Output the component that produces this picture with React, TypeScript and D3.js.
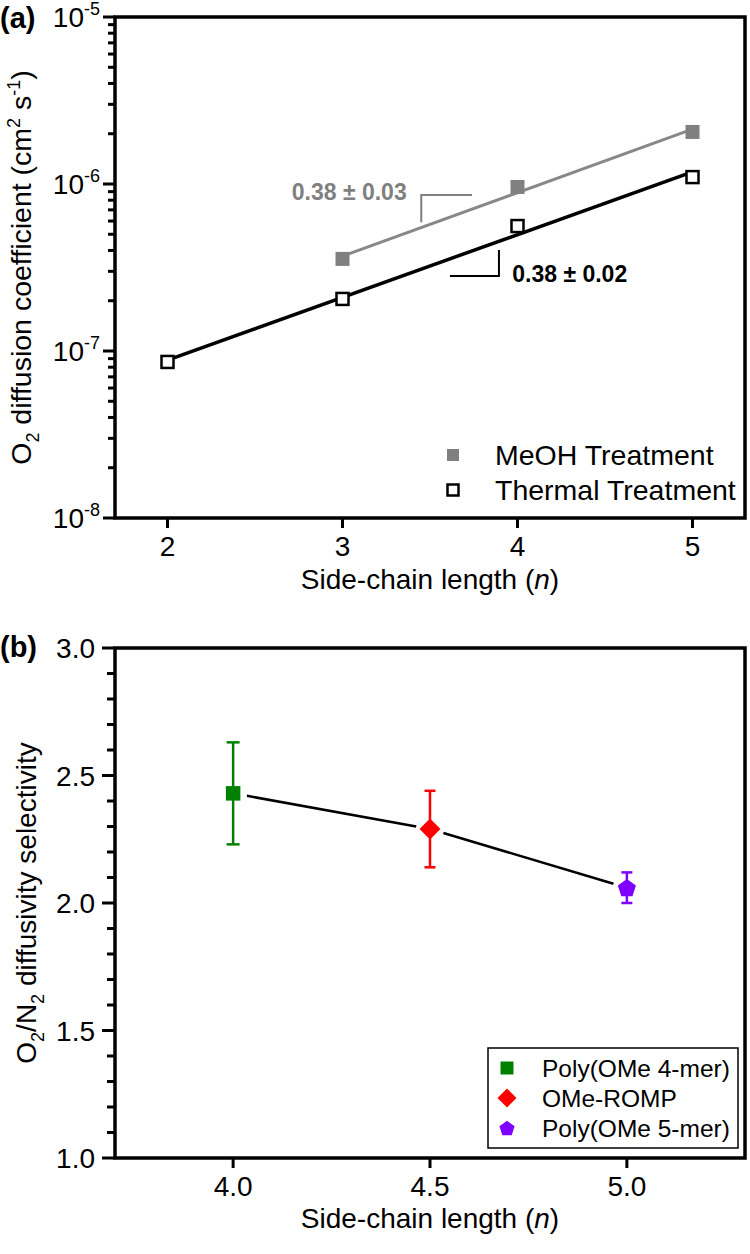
import React from "react";
import * as d3 from "d3";

// ---------- Panel (a) data ----------
const nMeOH = [3, 4, 5];
const dMeOH = [3.56e-7, 9.6e-7, 2.05e-6];
const nThermal = [2, 3, 4, 5];
const dThermal = [8.6e-8, 2.05e-7, 5.6e-7, 1.1e-6];
const xTicksA = [2, 3, 4, 5];
const yTicksA = [1e-8, 1e-7, 1e-6, 1e-5];
const yTickExpA = ["-8", "-7", "-6", "-5"];
const legendA = ["MeOH Treatment", "Thermal Treatment"];
const slopeLabels = ["0.38 \u00b1 0.03", "0.38 \u00b1 0.02"];

// ---------- Panel (b) data ----------
const nB = [4.0, 4.5, 5.0];
const selB = [2.43, 2.29, 2.06];
const errB = [0.2, 0.15, 0.06];
const namesB = ["Poly(OMe 4-mer)", "OMe-ROMP", "Poly(OMe 5-mer)"];
const colorsB = ["#008000", "#ff0000", "#8000ff"];
const shapesB = ["square", "diamond", "pentagon"];
const xTicksB = [4.0, 4.5, 5.0];
const yTicksB = [1.0, 1.5, 2.0, 2.5, 3.0];

const FONT = "'Liberation Sans', Arial, Helvetica, sans-serif";
const GREY = "#808080";

function fitLog(xs: number[], ys: number[]) {
  const ly = ys.map((v) => Math.log10(v));
  const mx = d3.mean(xs)!;
  const my = d3.mean(ly)!;
  let sxy = 0, sxx = 0;
  xs.forEach((x, i) => {
    sxy += (x - mx) * (ly[i] - my);
    sxx += (x - mx) * (x - mx);
  });
  const b = sxy / sxx;
  const a = my - b * mx;
  return (x: number) => Math.pow(10, a + b * x);
}

function pentagonPath(cx: number, cy: number, r: number) {
  const pts = d3.range(5).map((i) => {
    const ang = -Math.PI / 2 + (i * 2 * Math.PI) / 5;
    return [cx + r * Math.cos(ang), cy + r * Math.sin(ang)];
  });
  return "M" + pts.map((p) => p.join(",")).join("L") + "Z";
}

function Marker({ shape, cx, cy, color, size }: any) {
  if (shape === "square") {
    return <rect x={cx - size / 2} y={cy - size / 2} width={size} height={size} fill={color} />;
  }
  if (shape === "diamond") {
    const h = size / 2;
    return <path d={`M${cx},${cy - h}L${cx + h},${cy}L${cx},${cy + h}L${cx - h},${cy}Z`} fill={color} />;
  }
  return <path d={pentagonPath(cx, cy + 0.8, size / 2)} fill={color} />;
}

export default function App() {
  // ---------- scales ----------
  const L = 115, R = 745;
  const xA = d3.scaleLinear().domain([1.7, 5.3]).range([L, R]);
  const yA = d3.scaleLog().domain([1e-8, 1e-5]).range([518, 17]);
  const xB = d3.scaleLinear().domain([3.7, 5.3]).range([L, R]);
  const yB = d3.scaleLinear().domain([1, 3]).range([1158, 648]);

  const fitM = fitLog(nMeOH, dMeOH);
  const fitT = fitLog(nThermal, dThermal);
  const fitLine = (f: (x: number) => number) =>
    d3
      .line<number>()
      .x((d) => xA(d))
      .y((d) => yA(f(d)));

  // minor ticks
  const minorA: number[] = [];
  for (let e = -8; e < -5; e++) for (let k = 2; k <= 9; k++) minorA.push(k * Math.pow(10, e));
  const minorB = d3.range(1.1, 3.0, 0.1).filter((v) => Math.abs(v * 2 - Math.round(v * 2)) > 1e-6);

  // panel b connecting segments with gaps at markers
  const gap = 14;
  const segs = d3.range(nB.length - 1).map((i) => {
    const x1 = xB(nB[i]), y1 = yB(selB[i]);
    const x2 = xB(nB[i + 1]), y2 = yB(selB[i + 1]);
    const len = Math.hypot(x2 - x1, y2 - y1);
    const ux = (x2 - x1) / len, uy = (y2 - y1) / len;
    return [x1 + ux * gap, y1 + uy * gap, x2 - ux * gap, y2 - uy * gap];
  });

  const axisW = 3.5;
  const tickW = 3;

  return (
    <svg
      width={750}
      height={1254}
      style={{ position: "absolute", left: 0, top: 0, background: "#fff" }}
      fontFamily={FONT}
    >
      <rect width={750} height={1254} fill="#fff" />

      {/* ================= Panel (a) ================= */}
      <text x={0} y={28} fontSize={29} fontWeight="bold">(a)</text>

      {/* fit lines */}
      <path
        d={fitLine(fitM)([nMeOH[0], nMeOH[nMeOH.length - 1]]) as string}
        fill="none"
        stroke="#888888"
        strokeWidth={3}
      />
      <path
        d={fitLine(fitT)([nThermal[0], nThermal[nThermal.length - 1]]) as string}
        fill="none"
        stroke="#000"
        strokeWidth={3.5}
      />

      {/* slope annotations */}
      <path
        d={`M${xA(3.74)},${yA(8.6e-7)}H${xA(3.45)}V${yA(5.9e-7)}`}
        fill="none"
        stroke={GREY}
        strokeWidth={2}
      />
      <text x={xA(2.71)} y={yA(8.0e-7)} fontSize={23} fontWeight="bold" fill={GREY}>
        {slopeLabels[0]}
      </text>
      <path
        d={`M${xA(3.894)},${yA(4.03e-7)}V${yA(2.81e-7)}H${xA(3.614)}`}
        fill="none"
        stroke="#000"
        strokeWidth={2}
      />
      <text x={xA(3.97)} y={yA(2.6e-7)} fontSize={23} fontWeight="bold" fill="#000">
        {slopeLabels[1]}
      </text>

      {/* markers */}
      {nMeOH.map((n, i) => (
        <rect key={"m" + i} x={xA(n) - 7} y={yA(dMeOH[i]) - 7} width={14} height={14} fill={GREY} />
      ))}
      {nThermal.map((n, i) => (
        <rect
          key={"t" + i}
          x={xA(n) - 6}
          y={yA(dThermal[i]) - 6}
          width={12}
          height={12}
          fill="#fff"
          stroke="#000"
          strokeWidth={2.5}
        />
      ))}

      {/* legend a */}
      <rect x={447} y={449} width={12} height={12} fill={GREY} />
      <text x={495} y={465} fontSize={28.5}>{legendA[0]}</text>
      <rect x={447.5} y={484.5} width={11} height={11} fill="#fff" stroke="#000" strokeWidth={2.5} />
      <text x={495} y={500} fontSize={28.5}>{legendA[1]}</text>

      {/* axes a */}
      {minorA.map((v, i) => (
        <line key={"mn" + i} x1={L - 7} x2={L} y1={yA(v)} y2={yA(v)} stroke="#000" strokeWidth={tickW} />
      ))}
      {yTicksA.map((v, i) => (
        <g key={"ya" + i}>
          <line x1={L - 12} x2={L} y1={yA(v)} y2={yA(v)} stroke="#000" strokeWidth={tickW} />
          <text x={100} y={yA(v) + 10} fontSize={28} textAnchor="end">
            10<tspan dy={-12} fontSize={18}>{yTickExpA[i]}</tspan>
          </text>
        </g>
      ))}
      {xTicksA.map((v, i) => (
        <g key={"xa" + i}>
          <line x1={xA(v)} x2={xA(v)} y1={518} y2={528} stroke="#000" strokeWidth={tickW} />
          <text x={xA(v)} y={556} fontSize={28} textAnchor="middle">{v}</text>
        </g>
      ))}
      <rect x={L} y={17} width={R - L} height={518 - 17} fill="none" stroke="#000" strokeWidth={axisW} />

      <text x={430} y={589} fontSize={28} textAnchor="middle">
        Side-chain length (<tspan fontStyle="italic">n</tspan>)
      </text>
      <text transform={`translate(31,${(17 + 518) / 2}) rotate(-90)`} fontSize={28.5} textAnchor="middle">
        O<tspan dy={8} fontSize={18}>2</tspan>
        <tspan dy={-8}> diffusion coefficient (cm</tspan>
        <tspan dy={-11} fontSize={18}>2</tspan>
        <tspan dy={11}> s</tspan>
        <tspan dy={-11} fontSize={18}>-1</tspan>
        <tspan dy={11}>)</tspan>
      </text>

      {/* ================= Panel (b) ================= */}
      <text x={0} y={657} fontSize={29} fontWeight="bold">(b)</text>

      {segs.map((s, i) => (
        <line key={"sg" + i} x1={s[0]} y1={s[1]} x2={s[2]} y2={s[3]} stroke="#000" strokeWidth={2.5} />
      ))}

      {nB.map((n, i) => {
        const cx = xB(n);
        const cap = i === 0 ? 6.5 : 5.5;
        return (
          <g key={"b" + i}>
            <line x1={cx} x2={cx} y1={yB(selB[i] + errB[i])} y2={yB(selB[i] - errB[i])} stroke={colorsB[i]} strokeWidth={2.5} />
            <line x1={cx - cap} x2={cx + cap} y1={yB(selB[i] + errB[i])} y2={yB(selB[i] + errB[i])} stroke={colorsB[i]} strokeWidth={2.5} />
            <line x1={cx - cap} x2={cx + cap} y1={yB(selB[i] - errB[i])} y2={yB(selB[i] - errB[i])} stroke={colorsB[i]} strokeWidth={2.5} />
            <Marker shape={shapesB[i]} cx={cx} cy={yB(selB[i])} color={colorsB[i]} size={shapesB[i] === "square" ? 14.5 : shapesB[i] === "diamond" ? 21 : 19} />
          </g>
        );
      })}

      {/* legend b */}
      <rect x={488} y={1048} width={250} height={100} fill="#fff" stroke="#000" strokeWidth={1.5} />
      {namesB.map((nm, i) => {
        const cy = 1068 + i * 30;
        return (
          <g key={"lg" + i}>
            <Marker shape={shapesB[i]} cx={507} cy={cy} color={colorsB[i]} size={shapesB[i] === "square" ? 13 : shapesB[i] === "diamond" ? 19 : 16} />
            <text x={542} y={cy + 8.5} fontSize={24.5}>{nm}</text>
          </g>
        );
      })}

      {/* axes b */}
      {minorB.map((v, i) => (
        <line key={"mb" + i} x1={L - 8} x2={L} y1={yB(v)} y2={yB(v)} stroke="#000" strokeWidth={tickW} />
      ))}
      {yTicksB.map((v, i) => (
        <g key={"yb" + i}>
          <line x1={L - 13} x2={L} y1={yB(v)} y2={yB(v)} stroke="#000" strokeWidth={tickW} />
          <text x={95} y={yB(v) + 10} fontSize={28} textAnchor="end">{v.toFixed(1)}</text>
        </g>
      ))}
      {xTicksB.map((v, i) => (
        <g key={"xb" + i}>
          <line x1={xB(v)} x2={xB(v)} y1={1158} y2={1168} stroke="#000" strokeWidth={tickW} />
          <text x={xB(v)} y={1196} fontSize={28} textAnchor="middle">{v.toFixed(1)}</text>
        </g>
      ))}
      <rect x={L} y={648} width={R - L} height={1158 - 648} fill="none" stroke="#000" strokeWidth={axisW} />

      <text x={430} y={1228} fontSize={28} textAnchor="middle">
        Side-chain length (<tspan fontStyle="italic">n</tspan>)
      </text>
      <text transform={`translate(36,${(648 + 1158) / 2}) rotate(-90)`} fontSize={28} textAnchor="middle">
        O<tspan dy={8} fontSize={18}>2</tspan>
        <tspan dy={-8}>/N</tspan>
        <tspan dy={8} fontSize={18}>2</tspan>
        <tspan dy={-8}> diffusivity selectivity</tspan>
      </text>
    </svg>
  );
}
